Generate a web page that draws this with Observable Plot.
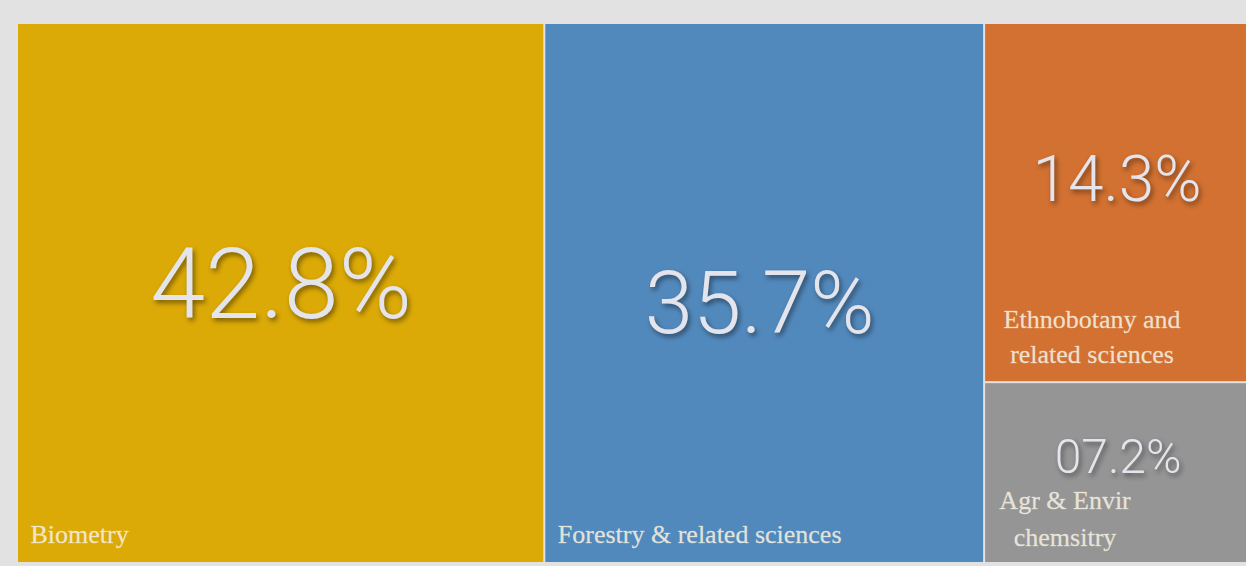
<!DOCTYPE html>
<html><head><meta charset="utf-8">
<script src="https://cdn.jsdelivr.net/npm/d3@7"></script>
<script src="https://cdn.jsdelivr.net/npm/@observablehq/plot@0.6"></script>
<style>
html,body{margin:0;padding:0;background:#e2e2e2;}
#chart svg{display:block;}
.pct{filter:drop-shadow(2px 3px 2.5px rgba(0,0,0,0.45));}
</style></head>
<body><div id="chart"></div>
<script>
const categories = ["Biometry", "Forestry & related sciences", "Ethnobotany and\nrelated sciences", "Agr & Envir\nchemsitry"];
const groups = ["a", "b", "c", "c"];
const values = [42.8, 35.7, 14.3, 7.2];
const pctLabels = ["42.8%", "35.7%", "14.3%", "07.2%"];
const colors = ["#dcaa07", "#5289bc", "#d27131", "#959595"];

const W = 1246, H = 566, mL = 18, mR = -2, mT = 24, mB = 4;
const innerW = W - mL - mR, innerH = H - mT - mB;

const tree = {children: []};
const gmap = new Map();
categories.forEach((c, i) => {
  const g = groups[i];
  if (!gmap.has(g)) { const node = {children: []}; gmap.set(g, node); tree.children.push(node); }
  gmap.get(g).children.push({name: c, value: values[i], pct: pctLabels[i], color: colors[i], idx: i});
});
const root = d3.hierarchy(tree, d => d.children).sum(d => d.value || 0);
d3.treemap().tile(d3.treemapSliceDice).size([innerW, innerH]).paddingInner(2).round(false)(root);
const leaves = root.leaves().map(l => ({...l.data, x0: l.x0, x1: l.x1, y0: l.y0, y1: l.y1}));
const cx = d => (d.x0 + d.x1) / 2, cy = d => (d.y0 + d.y1) / 2;
const big = leaves.filter(d => d.idx < 2);
const small = leaves.filter(d => d.idx >= 2);

const pctStyle = {text: "pct", fontFamily: "Roboto", fontWeight: 300, fill: "#e4e4ec", className: "pct"};
const labStyle = {text: "name", fontSize: 26, fontFamily: "Liberation Serif", fill: "#f4efe0", fillOpacity: 0.88, stroke: "#f4efe0", strokeOpacity: 0.5, strokeWidth: 0.4};
const chart = Plot.plot({
  width: W, height: H,
  marginLeft: mL, marginRight: mR, marginTop: mT, marginBottom: mB,
  style: {background: "#e2e2e2", overflow: "visible"},
  x: {domain: [0, innerW], range: [mL, W - mR], axis: null},
  y: {domain: [0, innerH], range: [mT, H - mB], axis: null},
  marks: [
    Plot.rect(leaves, {x1: "x0", x2: "x1", y1: "y0", y2: "y1", fill: d => d.color}),
    Plot.text(leaves.filter(d => d.idx === 0), {...pctStyle, x: d => cx(d), y: d => cy(d) - 7, fontSize: 99}),
    Plot.text(leaves.filter(d => d.idx === 1), {...pctStyle, x: d => cx(d) - 5, y: d => cy(d) + 12, fontSize: 87}),
    Plot.text(leaves.filter(d => d.idx === 2), {...pctStyle, x: d => cx(d), y: d => cy(d) - 23, fontSize: 64}),
    Plot.text(leaves.filter(d => d.idx === 3), {...pctStyle, x: d => cx(d) + 1, y: d => cy(d) - 15, fontSize: 48}),
    Plot.text(big, {...labStyle, x: d => d.x0 + 12, y: d => d.y1 - 28, textAnchor: "start"}),
    Plot.text(small.filter(d => d.idx === 2), {...labStyle, x: d => cx(d) - 25, y: d => d.y1 - 47, lineHeight: 1.35}),
    Plot.text(small.filter(d => d.idx === 3), {...labStyle, x: d => cx(d) - 52, y: d => d.y1 - 47, lineHeight: 1.45})
  ]
});
document.getElementById("chart").append(chart);
</script>
</body></html>
